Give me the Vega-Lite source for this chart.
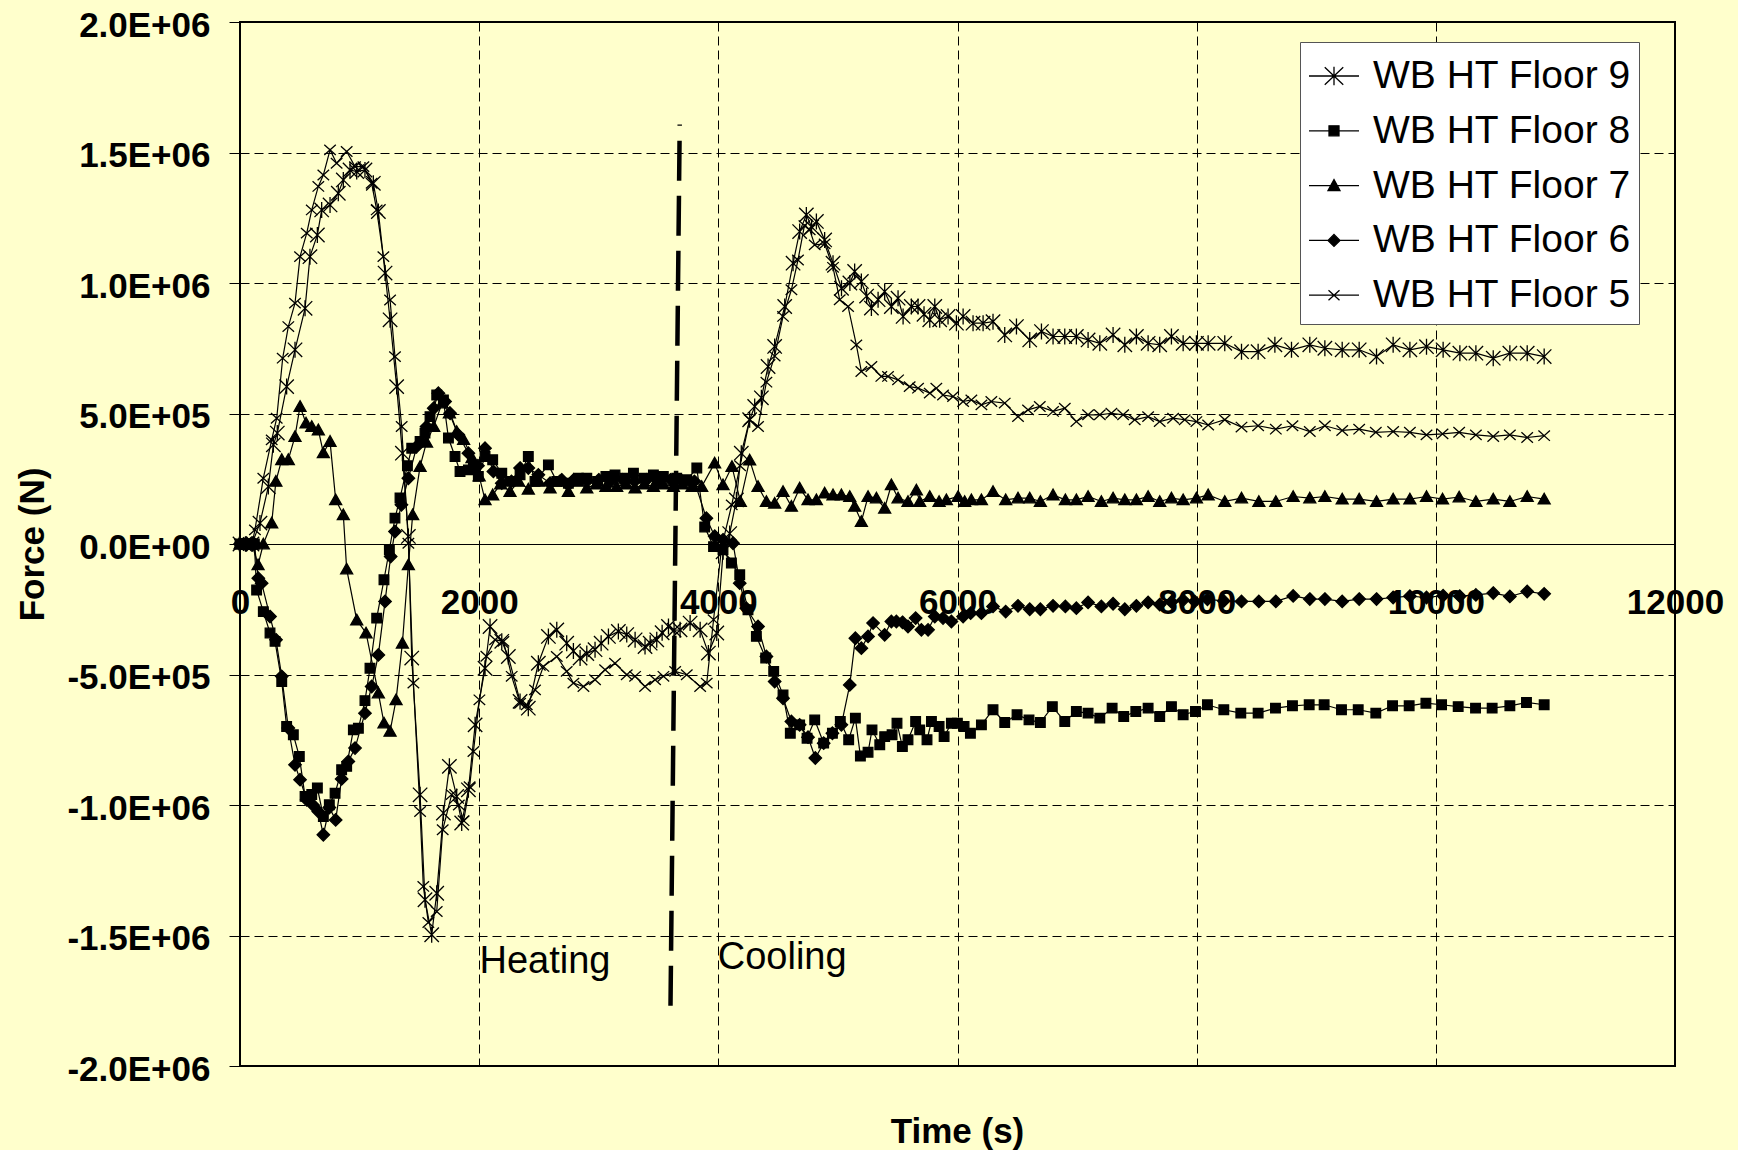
{
  "$schema": "https://vega.github.io/schema/vega-lite/v6.json",
  "width": 1435,
  "height": 1044,
  "autosize": "none",
  "padding": {"left": 240, "top": 22, "right": 63, "bottom": 84},
  "background": "#FFFFCC",
  "config": {
    "view": {"fill": "#FFFFCC", "stroke": "#000000", "strokeWidth": 2},
    "font": "Liberation Sans",
    "axis": {"labelFont": "Liberation Sans", "titleFont": "Liberation Sans", "labelColor": "#000000", "titleColor": "#000000", "tickColor": "#000000", "domainColor": "#000000", "gridColor": "#000000", "gridDash": [9, 5], "gridWidth": 1, "tickWidth": 1, "tickSize": 11, "labelFontSize": 35, "labelFontWeight": "bold", "titleFontSize": 35, "titleFontWeight": "bold"},
    "legend": {"orient": "none", "legendX": 1060, "legendY": 20, "fillColor": "#FFFFFF", "strokeColor": "#555555", "padding": 8, "rowPadding": 8.8, "labelOffset": 13, "symbolSize": 2500, "symbolStrokeWidth": 1.3, "symbolOpacity": 1, "labelFontSize": 39, "labelFont": "Liberation Sans", "labelColor": "#000000", "labelLimit": 400}
  },
  "data": {"values": [
{"s":"WB HT Floor 9","t":0,"f":0},{"s":"WB HT Floor 9","t":50,"f":0},{"s":"WB HT Floor 9","t":100,"f":0},{"s":"WB HT Floor 9","t":167,"f":80000},{"s":"WB HT Floor 9","t":237,"f":220000},{"s":"WB HT Floor 9","t":279,"f":380000},{"s":"WB HT Floor 9","t":312,"f":425000},{"s":"WB HT Floor 9","t":390,"f":603000},{"s":"WB HT Floor 9","t":460,"f":744000},{"s":"WB HT Floor 9","t":544,"f":903000},{"s":"WB HT Floor 9","t":585,"f":1101000},{"s":"WB HT Floor 9","t":647,"f":1184000},{"s":"WB HT Floor 9","t":683,"f":1280000},{"s":"WB HT Floor 9","t":753,"f":1299000},{"s":"WB HT Floor 9","t":822,"f":1344000},{"s":"WB HT Floor 9","t":864,"f":1395000},{"s":"WB HT Floor 9","t":920,"f":1433000},{"s":"WB HT Floor 9","t":976,"f":1427000},{"s":"WB HT Floor 9","t":1045,"f":1433000},{"s":"WB HT Floor 9","t":1115,"f":1382000},{"s":"WB HT Floor 9","t":1157,"f":1274000},{"s":"WB HT Floor 9","t":1213,"f":1038000},{"s":"WB HT Floor 9","t":1255,"f":859000},{"s":"WB HT Floor 9","t":1310,"f":603000},{"s":"WB HT Floor 9","t":1358,"f":348000},{"s":"WB HT Floor 9","t":1408,"f":29000},{"s":"WB HT Floor 9","t":1436,"f":-437000},{"s":"WB HT Floor 9","t":1506,"f":-961000},{"s":"WB HT Floor 9","t":1547,"f":-1363000},{"s":"WB HT Floor 9","t":1603,"f":-1497000},{"s":"WB HT Floor 9","t":1645,"f":-1338000},{"s":"WB HT Floor 9","t":1701,"f":-1031000},{"s":"WB HT Floor 9","t":1751,"f":-852000},{"s":"WB HT Floor 9","t":1812,"f":-967000},{"s":"WB HT Floor 9","t":1854,"f":-1069000},{"s":"WB HT Floor 9","t":1910,"f":-942000},{"s":"WB HT Floor 9","t":1966,"f":-693000},{"s":"WB HT Floor 9","t":2049,"f":-476000},{"s":"WB HT Floor 9","t":2091,"f":-316000},{"s":"WB HT Floor 9","t":2189,"f":-373000},{"s":"WB HT Floor 9","t":2244,"f":-431000},{"s":"WB HT Floor 9","t":2342,"f":-603000},{"s":"WB HT Floor 9","t":2411,"f":-629000},{"s":"WB HT Floor 9","t":2495,"f":-457000},{"s":"WB HT Floor 9","t":2579,"f":-354000},{"s":"WB HT Floor 9","t":2649,"f":-329000},{"s":"WB HT Floor 9","t":2732,"f":-380000},{"s":"WB HT Floor 9","t":2788,"f":-410000},{"s":"WB HT Floor 9","t":2844,"f":-437000},{"s":"WB HT Floor 9","t":2900,"f":-420000},{"s":"WB HT Floor 9","t":2969,"f":-405000},{"s":"WB HT Floor 9","t":3020,"f":-380000},{"s":"WB HT Floor 9","t":3081,"f":-354000},{"s":"WB HT Floor 9","t":3164,"f":-335000},{"s":"WB HT Floor 9","t":3234,"f":-347000},{"s":"WB HT Floor 9","t":3304,"f":-367000},{"s":"WB HT Floor 9","t":3387,"f":-393000},{"s":"WB HT Floor 9","t":3430,"f":-380000},{"s":"WB HT Floor 9","t":3485,"f":-367000},{"s":"WB HT Floor 9","t":3530,"f":-340000},{"s":"WB HT Floor 9","t":3583,"f":-316000},{"s":"WB HT Floor 9","t":3630,"f":-330000},{"s":"WB HT Floor 9","t":3680,"f":-329000},{"s":"WB HT Floor 9","t":3764,"f":-303000},{"s":"WB HT Floor 9","t":3848,"f":-329000},{"s":"WB HT Floor 9","t":3917,"f":-418000},{"s":"WB HT Floor 9","t":3987,"f":-341000},{"s":"WB HT Floor 9","t":4040,"f":-30000},{"s":"WB HT Floor 9","t":4095,"f":40000},{"s":"WB HT Floor 9","t":4151,"f":169000},{"s":"WB HT Floor 9","t":4192,"f":348000},{"s":"WB HT Floor 9","t":4262,"f":476000},{"s":"WB HT Floor 9","t":4304,"f":527000},{"s":"WB HT Floor 9","t":4360,"f":560000},{"s":"WB HT Floor 9","t":4416,"f":680000},{"s":"WB HT Floor 9","t":4471,"f":757000},{"s":"WB HT Floor 9","t":4555,"f":910000},{"s":"WB HT Floor 9","t":4625,"f":1076000},{"s":"WB HT Floor 9","t":4680,"f":1197000},{"s":"WB HT Floor 9","t":4736,"f":1261000},{"s":"WB HT Floor 9","t":4780,"f":1215000},{"s":"WB HT Floor 9","t":4820,"f":1236000},{"s":"WB HT Floor 9","t":4889,"f":1165000},{"s":"WB HT Floor 9","t":4959,"f":1076000},{"s":"WB HT Floor 9","t":5030,"f":980000},{"s":"WB HT Floor 9","t":5100,"f":1000000},{"s":"WB HT Floor 9","t":5140,"f":1044000},{"s":"WB HT Floor 9","t":5196,"f":1006000},{"s":"WB HT Floor 9","t":5240,"f":950000},{"s":"WB HT Floor 9","t":5280,"f":904000},{"s":"WB HT Floor 9","t":5336,"f":936000},{"s":"WB HT Floor 9","t":5391,"f":967000},{"s":"WB HT Floor 9","t":5447,"f":910000},{"s":"WB HT Floor 9","t":5503,"f":942000},{"s":"WB HT Floor 9","t":5545,"f":872000},{"s":"WB HT Floor 9","t":5614,"f":910000},{"s":"WB HT Floor 9","t":5670,"f":910000},{"s":"WB HT Floor 9","t":5720,"f":880000},{"s":"WB HT Floor 9","t":5768,"f":859000},{"s":"WB HT Floor 9","t":5810,"f":910000},{"s":"WB HT Floor 9","t":5851,"f":859000},{"s":"WB HT Floor 9","t":5921,"f":872000},{"s":"WB HT Floor 9","t":5991,"f":846000},{"s":"WB HT Floor 9","t":6047,"f":872000},{"s":"WB HT Floor 9","t":6130,"f":846000},{"s":"WB HT Floor 9","t":6214,"f":846000},{"s":"WB HT Floor 9","t":6297,"f":852000},{"s":"WB HT Floor 9","t":6395,"f":801000},{"s":"WB HT Floor 9","t":6493,"f":833000},{"s":"WB HT Floor 9","t":6604,"f":782000},{"s":"WB HT Floor 9","t":6702,"f":814000},{"s":"WB HT Floor 9","t":6799,"f":795000},{"s":"WB HT Floor 9","t":6897,"f":795000},{"s":"WB HT Floor 9","t":6994,"f":795000},{"s":"WB HT Floor 9","t":7092,"f":782000},{"s":"WB HT Floor 9","t":7190,"f":769000},{"s":"WB HT Floor 9","t":7301,"f":801000},{"s":"WB HT Floor 9","t":7399,"f":763000},{"s":"WB HT Floor 9","t":7496,"f":795000},{"s":"WB HT Floor 9","t":7594,"f":769000},{"s":"WB HT Floor 9","t":7691,"f":763000},{"s":"WB HT Floor 9","t":7789,"f":795000},{"s":"WB HT Floor 9","t":7887,"f":769000},{"s":"WB HT Floor 9","t":7998,"f":769000},{"s":"WB HT Floor 9","t":8096,"f":769000},{"s":"WB HT Floor 9","t":8235,"f":769000},{"s":"WB HT Floor 9","t":8375,"f":737000},{"s":"WB HT Floor 9","t":8514,"f":737000},{"s":"WB HT Floor 9","t":8654,"f":763000},{"s":"WB HT Floor 9","t":8793,"f":744000},{"s":"WB HT Floor 9","t":8946,"f":763000},{"s":"WB HT Floor 9","t":9072,"f":750000},{"s":"WB HT Floor 9","t":9217,"f":744000},{"s":"WB HT Floor 9","t":9359,"f":744000},{"s":"WB HT Floor 9","t":9504,"f":718000},{"s":"WB HT Floor 9","t":9643,"f":763000},{"s":"WB HT Floor 9","t":9783,"f":744000},{"s":"WB HT Floor 9","t":9922,"f":756000},{"s":"WB HT Floor 9","t":10061,"f":744000},{"s":"WB HT Floor 9","t":10201,"f":731000},{"s":"WB HT Floor 9","t":10335,"f":731000},{"s":"WB HT Floor 9","t":10480,"f":712000},{"s":"WB HT Floor 9","t":10619,"f":731000},{"s":"WB HT Floor 9","t":10764,"f":731000},{"s":"WB HT Floor 9","t":10906,"f":718000},
{"s":"WB HT Floor 8","t":0,"f":0},{"s":"WB HT Floor 8","t":30,"f":0},{"s":"WB HT Floor 8","t":60,"f":0},{"s":"WB HT Floor 8","t":90,"f":0},{"s":"WB HT Floor 8","t":120,"f":0},{"s":"WB HT Floor 8","t":139,"f":-176000},{"s":"WB HT Floor 8","t":195,"f":-259000},{"s":"WB HT Floor 8","t":251,"f":-341000},{"s":"WB HT Floor 8","t":293,"f":-373000},{"s":"WB HT Floor 8","t":349,"f":-527000},{"s":"WB HT Floor 8","t":390,"f":-699000},{"s":"WB HT Floor 8","t":446,"f":-731000},{"s":"WB HT Floor 8","t":496,"f":-814000},{"s":"WB HT Floor 8","t":544,"f":-967000},{"s":"WB HT Floor 8","t":600,"f":-960000},{"s":"WB HT Floor 8","t":647,"f":-935000},{"s":"WB HT Floor 8","t":697,"f":-1044000},{"s":"WB HT Floor 8","t":747,"f":-999000},{"s":"WB HT Floor 8","t":795,"f":-955000},{"s":"WB HT Floor 8","t":850,"f":-865000},{"s":"WB HT Floor 8","t":892,"f":-852000},{"s":"WB HT Floor 8","t":948,"f":-712000},{"s":"WB HT Floor 8","t":990,"f":-706000},{"s":"WB HT Floor 8","t":1045,"f":-600000},{"s":"WB HT Floor 8","t":1087,"f":-476000},{"s":"WB HT Floor 8","t":1143,"f":-284000},{"s":"WB HT Floor 8","t":1204,"f":-137000},{"s":"WB HT Floor 8","t":1249,"f":-22000},{"s":"WB HT Floor 8","t":1296,"f":99000},{"s":"WB HT Floor 8","t":1338,"f":176000},{"s":"WB HT Floor 8","t":1400,"f":300000},{"s":"WB HT Floor 8","t":1436,"f":367000},{"s":"WB HT Floor 8","t":1506,"f":393000},{"s":"WB HT Floor 8","t":1547,"f":425000},{"s":"WB HT Floor 8","t":1589,"f":488000},{"s":"WB HT Floor 8","t":1645,"f":571000},{"s":"WB HT Floor 8","t":1701,"f":552000},{"s":"WB HT Floor 8","t":1743,"f":406000},{"s":"WB HT Floor 8","t":1798,"f":335000},{"s":"WB HT Floor 8","t":1840,"f":278000},{"s":"WB HT Floor 8","t":1910,"f":284000},{"s":"WB HT Floor 8","t":1952,"f":291000},{"s":"WB HT Floor 8","t":1993,"f":259000},{"s":"WB HT Floor 8","t":2049,"f":335000},{"s":"WB HT Floor 8","t":2113,"f":323000},{"s":"WB HT Floor 8","t":2189,"f":271000},{"s":"WB HT Floor 8","t":2258,"f":240000},{"s":"WB HT Floor 8","t":2342,"f":265000},{"s":"WB HT Floor 8","t":2411,"f":335000},{"s":"WB HT Floor 8","t":2467,"f":240000},{"s":"WB HT Floor 8","t":2579,"f":303000},{"s":"WB HT Floor 8","t":2649,"f":240000},{"s":"WB HT Floor 8","t":2746,"f":233000},{"s":"WB HT Floor 8","t":2830,"f":252000},{"s":"WB HT Floor 8","t":2900,"f":252000},{"s":"WB HT Floor 8","t":2990,"f":240000},{"s":"WB HT Floor 8","t":3060,"f":259000},{"s":"WB HT Floor 8","t":3136,"f":265000},{"s":"WB HT Floor 8","t":3220,"f":252000},{"s":"WB HT Floor 8","t":3290,"f":271000},{"s":"WB HT Floor 8","t":3380,"f":252000},{"s":"WB HT Floor 8","t":3457,"f":265000},{"s":"WB HT Floor 8","t":3540,"f":259000},{"s":"WB HT Floor 8","t":3652,"f":252000},{"s":"WB HT Floor 8","t":3736,"f":246000},{"s":"WB HT Floor 8","t":3820,"f":291000},{"s":"WB HT Floor 8","t":3886,"f":65000},{"s":"WB HT Floor 8","t":3960,"f":-10000},{"s":"WB HT Floor 8","t":4039,"f":-22000},{"s":"WB HT Floor 8","t":4109,"f":-73000},{"s":"WB HT Floor 8","t":4179,"f":-118000},{"s":"WB HT Floor 8","t":4248,"f":-252000},{"s":"WB HT Floor 8","t":4318,"f":-354000},{"s":"WB HT Floor 8","t":4396,"f":-437000},{"s":"WB HT Floor 8","t":4463,"f":-488000},{"s":"WB HT Floor 8","t":4541,"f":-578000},{"s":"WB HT Floor 8","t":4602,"f":-725000},{"s":"WB HT Floor 8","t":4680,"f":-693000},{"s":"WB HT Floor 8","t":4742,"f":-744000},{"s":"WB HT Floor 8","t":4806,"f":-674000},{"s":"WB HT Floor 8","t":4881,"f":-763000},{"s":"WB HT Floor 8","t":4954,"f":-725000},{"s":"WB HT Floor 8","t":5020,"f":-680000},{"s":"WB HT Floor 8","t":5090,"f":-750000},{"s":"WB HT Floor 8","t":5146,"f":-667000},{"s":"WB HT Floor 8","t":5188,"f":-812000},{"s":"WB HT Floor 8","t":5252,"f":-798000},{"s":"WB HT Floor 8","t":5285,"f":-712000},{"s":"WB HT Floor 8","t":5350,"f":-769000},{"s":"WB HT Floor 8","t":5391,"f":-738000},{"s":"WB HT Floor 8","t":5453,"f":-731000},{"s":"WB HT Floor 8","t":5494,"f":-687000},{"s":"WB HT Floor 8","t":5539,"f":-776000},{"s":"WB HT Floor 8","t":5586,"f":-750000},{"s":"WB HT Floor 8","t":5650,"f":-680000},{"s":"WB HT Floor 8","t":5684,"f":-712000},{"s":"WB HT Floor 8","t":5745,"f":-750000},{"s":"WB HT Floor 8","t":5782,"f":-680000},{"s":"WB HT Floor 8","t":5846,"f":-699000},{"s":"WB HT Floor 8","t":5888,"f":-738000},{"s":"WB HT Floor 8","t":5949,"f":-687000},{"s":"WB HT Floor 8","t":5999,"f":-687000},{"s":"WB HT Floor 8","t":6055,"f":-699000},{"s":"WB HT Floor 8","t":6108,"f":-725000},{"s":"WB HT Floor 8","t":6200,"f":-693000},{"s":"WB HT Floor 8","t":6297,"f":-635000},{"s":"WB HT Floor 8","t":6395,"f":-684000},{"s":"WB HT Floor 8","t":6498,"f":-654000},{"s":"WB HT Floor 8","t":6598,"f":-674000},{"s":"WB HT Floor 8","t":6693,"f":-684000},{"s":"WB HT Floor 8","t":6793,"f":-623000},{"s":"WB HT Floor 8","t":6897,"f":-680000},{"s":"WB HT Floor 8","t":6994,"f":-642000},{"s":"WB HT Floor 8","t":7092,"f":-648000},{"s":"WB HT Floor 8","t":7190,"f":-667000},{"s":"WB HT Floor 8","t":7293,"f":-629000},{"s":"WB HT Floor 8","t":7390,"f":-661000},{"s":"WB HT Floor 8","t":7491,"f":-642000},{"s":"WB HT Floor 8","t":7594,"f":-629000},{"s":"WB HT Floor 8","t":7691,"f":-661000},{"s":"WB HT Floor 8","t":7789,"f":-623000},{"s":"WB HT Floor 8","t":7887,"f":-654000},{"s":"WB HT Floor 8","t":7990,"f":-642000},{"s":"WB HT Floor 8","t":8090,"f":-616000},{"s":"WB HT Floor 8","t":8227,"f":-635000},{"s":"WB HT Floor 8","t":8369,"f":-648000},{"s":"WB HT Floor 8","t":8514,"f":-648000},{"s":"WB HT Floor 8","t":8659,"f":-629000},{"s":"WB HT Floor 8","t":8801,"f":-620000},{"s":"WB HT Floor 8","t":8941,"f":-616000},{"s":"WB HT Floor 8","t":9066,"f":-616000},{"s":"WB HT Floor 8","t":9211,"f":-635000},{"s":"WB HT Floor 8","t":9351,"f":-635000},{"s":"WB HT Floor 8","t":9498,"f":-648000},{"s":"WB HT Floor 8","t":9638,"f":-620000},{"s":"WB HT Floor 8","t":9777,"f":-620000},{"s":"WB HT Floor 8","t":9917,"f":-610000},{"s":"WB HT Floor 8","t":10048,"f":-616000},{"s":"WB HT Floor 8","t":10187,"f":-623000},{"s":"WB HT Floor 8","t":10332,"f":-629000},{"s":"WB HT Floor 8","t":10471,"f":-629000},{"s":"WB HT Floor 8","t":10619,"f":-620000},{"s":"WB HT Floor 8","t":10758,"f":-607000},{"s":"WB HT Floor 8","t":10906,"f":-616000},
{"s":"WB HT Floor 7","t":0,"f":0},{"s":"WB HT Floor 7","t":50,"f":0},{"s":"WB HT Floor 7","t":100,"f":0},{"s":"WB HT Floor 7","t":151,"f":-80000},{"s":"WB HT Floor 7","t":195,"f":0},{"s":"WB HT Floor 7","t":265,"f":80000},{"s":"WB HT Floor 7","t":300,"f":240000},{"s":"WB HT Floor 7","t":349,"f":323000},{"s":"WB HT Floor 7","t":404,"f":323000},{"s":"WB HT Floor 7","t":460,"f":412000},{"s":"WB HT Floor 7","t":502,"f":527000},{"s":"WB HT Floor 7","t":552,"f":463000},{"s":"WB HT Floor 7","t":600,"f":450000},{"s":"WB HT Floor 7","t":655,"f":437000},{"s":"WB HT Floor 7","t":697,"f":349000},{"s":"WB HT Floor 7","t":753,"f":393000},{"s":"WB HT Floor 7","t":800,"f":169000},{"s":"WB HT Floor 7","t":864,"f":112000},{"s":"WB HT Floor 7","t":892,"f":-96000},{"s":"WB HT Floor 7","t":976,"f":-291000},{"s":"WB HT Floor 7","t":1054,"f":-341000},{"s":"WB HT Floor 7","t":1157,"f":-571000},{"s":"WB HT Floor 7","t":1204,"f":-686000},{"s":"WB HT Floor 7","t":1255,"f":-718000},{"s":"WB HT Floor 7","t":1305,"f":-597000},{"s":"WB HT Floor 7","t":1358,"f":-380000},{"s":"WB HT Floor 7","t":1408,"f":-80000},{"s":"WB HT Floor 7","t":1444,"f":112000},{"s":"WB HT Floor 7","t":1506,"f":297000},{"s":"WB HT Floor 7","t":1560,"f":390000},{"s":"WB HT Floor 7","t":1620,"f":450000},{"s":"WB HT Floor 7","t":1690,"f":540000},{"s":"WB HT Floor 7","t":1751,"f":502000},{"s":"WB HT Floor 7","t":1812,"f":431000},{"s":"WB HT Floor 7","t":1870,"f":400000},{"s":"WB HT Floor 7","t":1940,"f":330000},{"s":"WB HT Floor 7","t":2000,"f":260000},{"s":"WB HT Floor 7","t":2049,"f":169000},{"s":"WB HT Floor 7","t":2113,"f":188000},{"s":"WB HT Floor 7","t":2180,"f":230000},{"s":"WB HT Floor 7","t":2258,"f":201000},{"s":"WB HT Floor 7","t":2330,"f":240000},{"s":"WB HT Floor 7","t":2411,"f":210000},{"s":"WB HT Floor 7","t":2500,"f":240000},{"s":"WB HT Floor 7","t":2593,"f":214000},{"s":"WB HT Floor 7","t":2670,"f":240000},{"s":"WB HT Floor 7","t":2746,"f":201000},{"s":"WB HT Floor 7","t":2820,"f":240000},{"s":"WB HT Floor 7","t":2900,"f":214000},{"s":"WB HT Floor 7","t":2980,"f":230000},{"s":"WB HT Floor 7","t":3060,"f":220000},{"s":"WB HT Floor 7","t":3150,"f":220000},{"s":"WB HT Floor 7","t":3230,"f":230000},{"s":"WB HT Floor 7","t":3304,"f":214000},{"s":"WB HT Floor 7","t":3380,"f":230000},{"s":"WB HT Floor 7","t":3457,"f":220000},{"s":"WB HT Floor 7","t":3540,"f":230000},{"s":"WB HT Floor 7","t":3624,"f":220000},{"s":"WB HT Floor 7","t":3700,"f":230000},{"s":"WB HT Floor 7","t":3780,"f":220000},{"s":"WB HT Floor 7","t":3861,"f":220000},{"s":"WB HT Floor 7","t":3969,"f":310000},{"s":"WB HT Floor 7","t":4039,"f":227000},{"s":"WB HT Floor 7","t":4114,"f":297000},{"s":"WB HT Floor 7","t":4184,"f":163000},{"s":"WB HT Floor 7","t":4262,"f":322000},{"s":"WB HT Floor 7","t":4332,"f":220000},{"s":"WB HT Floor 7","t":4402,"f":163000},{"s":"WB HT Floor 7","t":4471,"f":156000},{"s":"WB HT Floor 7","t":4541,"f":201000},{"s":"WB HT Floor 7","t":4611,"f":144000},{"s":"WB HT Floor 7","t":4680,"f":214000},{"s":"WB HT Floor 7","t":4750,"f":169000},{"s":"WB HT Floor 7","t":4820,"f":169000},{"s":"WB HT Floor 7","t":4889,"f":195000},{"s":"WB HT Floor 7","t":4959,"f":188000},{"s":"WB HT Floor 7","t":5029,"f":188000},{"s":"WB HT Floor 7","t":5099,"f":182000},{"s":"WB HT Floor 7","t":5140,"f":144000},{"s":"WB HT Floor 7","t":5196,"f":86000},{"s":"WB HT Floor 7","t":5252,"f":182000},{"s":"WB HT Floor 7","t":5322,"f":176000},{"s":"WB HT Floor 7","t":5391,"f":137000},{"s":"WB HT Floor 7","t":5447,"f":227000},{"s":"WB HT Floor 7","t":5503,"f":176000},{"s":"WB HT Floor 7","t":5586,"f":163000},{"s":"WB HT Floor 7","t":5656,"f":207000},{"s":"WB HT Floor 7","t":5684,"f":163000},{"s":"WB HT Floor 7","t":5768,"f":182000},{"s":"WB HT Floor 7","t":5846,"f":163000},{"s":"WB HT Floor 7","t":5907,"f":169000},{"s":"WB HT Floor 7","t":6005,"f":182000},{"s":"WB HT Floor 7","t":6060,"f":163000},{"s":"WB HT Floor 7","t":6116,"f":169000},{"s":"WB HT Floor 7","t":6200,"f":169000},{"s":"WB HT Floor 7","t":6297,"f":201000},{"s":"WB HT Floor 7","t":6403,"f":169000},{"s":"WB HT Floor 7","t":6506,"f":176000},{"s":"WB HT Floor 7","t":6604,"f":176000},{"s":"WB HT Floor 7","t":6693,"f":163000},{"s":"WB HT Floor 7","t":6799,"f":188000},{"s":"WB HT Floor 7","t":6902,"f":169000},{"s":"WB HT Floor 7","t":6994,"f":169000},{"s":"WB HT Floor 7","t":7092,"f":182000},{"s":"WB HT Floor 7","t":7203,"f":163000},{"s":"WB HT Floor 7","t":7301,"f":176000},{"s":"WB HT Floor 7","t":7399,"f":169000},{"s":"WB HT Floor 7","t":7496,"f":169000},{"s":"WB HT Floor 7","t":7594,"f":182000},{"s":"WB HT Floor 7","t":7691,"f":163000},{"s":"WB HT Floor 7","t":7789,"f":176000},{"s":"WB HT Floor 7","t":7887,"f":169000},{"s":"WB HT Floor 7","t":7998,"f":176000},{"s":"WB HT Floor 7","t":8096,"f":188000},{"s":"WB HT Floor 7","t":8235,"f":163000},{"s":"WB HT Floor 7","t":8375,"f":176000},{"s":"WB HT Floor 7","t":8520,"f":163000},{"s":"WB HT Floor 7","t":8662,"f":163000},{"s":"WB HT Floor 7","t":8807,"f":182000},{"s":"WB HT Floor 7","t":8946,"f":176000},{"s":"WB HT Floor 7","t":9072,"f":182000},{"s":"WB HT Floor 7","t":9217,"f":172000},{"s":"WB HT Floor 7","t":9359,"f":172000},{"s":"WB HT Floor 7","t":9504,"f":163000},{"s":"WB HT Floor 7","t":9643,"f":172000},{"s":"WB HT Floor 7","t":9783,"f":172000},{"s":"WB HT Floor 7","t":9922,"f":182000},{"s":"WB HT Floor 7","t":10056,"f":172000},{"s":"WB HT Floor 7","t":10195,"f":180000},{"s":"WB HT Floor 7","t":10335,"f":163000},{"s":"WB HT Floor 7","t":10480,"f":172000},{"s":"WB HT Floor 7","t":10619,"f":163000},{"s":"WB HT Floor 7","t":10764,"f":182000},{"s":"WB HT Floor 7","t":10906,"f":172000},
{"s":"WB HT Floor 6","t":0,"f":0},{"s":"WB HT Floor 6","t":30,"f":0},{"s":"WB HT Floor 6","t":60,"f":0},{"s":"WB HT Floor 6","t":90,"f":0},{"s":"WB HT Floor 6","t":120,"f":0},{"s":"WB HT Floor 6","t":153,"f":-131000},{"s":"WB HT Floor 6","t":181,"f":-150000},{"s":"WB HT Floor 6","t":251,"f":-278000},{"s":"WB HT Floor 6","t":301,"f":-367000},{"s":"WB HT Floor 6","t":349,"f":-507000},{"s":"WB HT Floor 6","t":404,"f":-705000},{"s":"WB HT Floor 6","t":460,"f":-846000},{"s":"WB HT Floor 6","t":502,"f":-903000},{"s":"WB HT Floor 6","t":558,"f":-980000},{"s":"WB HT Floor 6","t":610,"f":-1000000},{"s":"WB HT Floor 6","t":655,"f":-1025000},{"s":"WB HT Floor 6","t":697,"f":-1114000},{"s":"WB HT Floor 6","t":747,"f":-1010000},{"s":"WB HT Floor 6","t":800,"f":-1057000},{"s":"WB HT Floor 6","t":850,"f":-900000},{"s":"WB HT Floor 6","t":906,"f":-833000},{"s":"WB HT Floor 6","t":962,"f":-782000},{"s":"WB HT Floor 6","t":1045,"f":-648000},{"s":"WB HT Floor 6","t":1101,"f":-546000},{"s":"WB HT Floor 6","t":1157,"f":-425000},{"s":"WB HT Floor 6","t":1213,"f":-220000},{"s":"WB HT Floor 6","t":1260,"f":-48000},{"s":"WB HT Floor 6","t":1296,"f":48000},{"s":"WB HT Floor 6","t":1350,"f":150000},{"s":"WB HT Floor 6","t":1408,"f":252000},{"s":"WB HT Floor 6","t":1478,"f":374000},{"s":"WB HT Floor 6","t":1560,"f":450000},{"s":"WB HT Floor 6","t":1620,"f":520000},{"s":"WB HT Floor 6","t":1659,"f":578000},{"s":"WB HT Floor 6","t":1715,"f":546000},{"s":"WB HT Floor 6","t":1757,"f":501000},{"s":"WB HT Floor 6","t":1826,"f":418000},{"s":"WB HT Floor 6","t":1910,"f":348000},{"s":"WB HT Floor 6","t":1990,"f":300000},{"s":"WB HT Floor 6","t":2049,"f":367000},{"s":"WB HT Floor 6","t":2119,"f":278000},{"s":"WB HT Floor 6","t":2189,"f":233000},{"s":"WB HT Floor 6","t":2270,"f":240000},{"s":"WB HT Floor 6","t":2342,"f":291000},{"s":"WB HT Floor 6","t":2411,"f":291000},{"s":"WB HT Floor 6","t":2495,"f":265000},{"s":"WB HT Floor 6","t":2593,"f":233000},{"s":"WB HT Floor 6","t":2690,"f":246000},{"s":"WB HT Floor 6","t":2790,"f":246000},{"s":"WB HT Floor 6","t":2900,"f":240000},{"s":"WB HT Floor 6","t":3000,"f":246000},{"s":"WB HT Floor 6","t":3100,"f":240000},{"s":"WB HT Floor 6","t":3200,"f":246000},{"s":"WB HT Floor 6","t":3300,"f":240000},{"s":"WB HT Floor 6","t":3400,"f":246000},{"s":"WB HT Floor 6","t":3500,"f":240000},{"s":"WB HT Floor 6","t":3600,"f":246000},{"s":"WB HT Floor 6","t":3700,"f":240000},{"s":"WB HT Floor 6","t":3800,"f":240000},{"s":"WB HT Floor 6","t":3900,"f":99000},{"s":"WB HT Floor 6","t":3970,"f":30000},{"s":"WB HT Floor 6","t":4039,"f":16000},{"s":"WB HT Floor 6","t":4123,"f":3000},{"s":"WB HT Floor 6","t":4179,"f":-150000},{"s":"WB HT Floor 6","t":4234,"f":-246000},{"s":"WB HT Floor 6","t":4332,"f":-316000},{"s":"WB HT Floor 6","t":4402,"f":-431000},{"s":"WB HT Floor 6","t":4471,"f":-527000},{"s":"WB HT Floor 6","t":4541,"f":-591000},{"s":"WB HT Floor 6","t":4611,"f":-680000},{"s":"WB HT Floor 6","t":4680,"f":-693000},{"s":"WB HT Floor 6","t":4750,"f":-740000},{"s":"WB HT Floor 6","t":4811,"f":-820000},{"s":"WB HT Floor 6","t":4881,"f":-763000},{"s":"WB HT Floor 6","t":4954,"f":-725000},{"s":"WB HT Floor 6","t":5029,"f":-693000},{"s":"WB HT Floor 6","t":5099,"f":-540000},{"s":"WB HT Floor 6","t":5146,"f":-361000},{"s":"WB HT Floor 6","t":5196,"f":-399000},{"s":"WB HT Floor 6","t":5252,"f":-354000},{"s":"WB HT Floor 6","t":5294,"f":-303000},{"s":"WB HT Floor 6","t":5391,"f":-348000},{"s":"WB HT Floor 6","t":5447,"f":-297000},{"s":"WB HT Floor 6","t":5489,"f":-297000},{"s":"WB HT Floor 6","t":5540,"f":-300000},{"s":"WB HT Floor 6","t":5586,"f":-316000},{"s":"WB HT Floor 6","t":5650,"f":-284000},{"s":"WB HT Floor 6","t":5698,"f":-329000},{"s":"WB HT Floor 6","t":5754,"f":-329000},{"s":"WB HT Floor 6","t":5810,"f":-278000},{"s":"WB HT Floor 6","t":5879,"f":-284000},{"s":"WB HT Floor 6","t":5949,"f":-297000},{"s":"WB HT Floor 6","t":6047,"f":-278000},{"s":"WB HT Floor 6","t":6110,"f":-265000},{"s":"WB HT Floor 6","t":6200,"f":-265000},{"s":"WB HT Floor 6","t":6297,"f":-239000},{"s":"WB HT Floor 6","t":6403,"f":-259000},{"s":"WB HT Floor 6","t":6506,"f":-237000},{"s":"WB HT Floor 6","t":6604,"f":-250000},{"s":"WB HT Floor 6","t":6693,"f":-250000},{"s":"WB HT Floor 6","t":6799,"f":-237000},{"s":"WB HT Floor 6","t":6902,"f":-239000},{"s":"WB HT Floor 6","t":6994,"f":-246000},{"s":"WB HT Floor 6","t":7092,"f":-224000},{"s":"WB HT Floor 6","t":7203,"f":-239000},{"s":"WB HT Floor 6","t":7301,"f":-229000},{"s":"WB HT Floor 6","t":7399,"f":-250000},{"s":"WB HT Floor 6","t":7496,"f":-237000},{"s":"WB HT Floor 6","t":7594,"f":-224000},{"s":"WB HT Floor 6","t":7691,"f":-232000},{"s":"WB HT Floor 6","t":7789,"f":-222000},{"s":"WB HT Floor 6","t":7887,"f":-215000},{"s":"WB HT Floor 6","t":7984,"f":-220000},{"s":"WB HT Floor 6","t":8090,"f":-212000},{"s":"WB HT Floor 6","t":8227,"f":-218000},{"s":"WB HT Floor 6","t":8375,"f":-220000},{"s":"WB HT Floor 6","t":8520,"f":-220000},{"s":"WB HT Floor 6","t":8662,"f":-220000},{"s":"WB HT Floor 6","t":8807,"f":-199000},{"s":"WB HT Floor 6","t":8946,"f":-211000},{"s":"WB HT Floor 6","t":9072,"f":-211000},{"s":"WB HT Floor 6","t":9217,"f":-220000},{"s":"WB HT Floor 6","t":9359,"f":-211000},{"s":"WB HT Floor 6","t":9504,"f":-211000},{"s":"WB HT Floor 6","t":9643,"f":-205000},{"s":"WB HT Floor 6","t":9783,"f":-200000},{"s":"WB HT Floor 6","t":9922,"f":-205000},{"s":"WB HT Floor 6","t":10061,"f":-198000},{"s":"WB HT Floor 6","t":10200,"f":-200000},{"s":"WB HT Floor 6","t":10335,"f":-195000},{"s":"WB HT Floor 6","t":10480,"f":-188000},{"s":"WB HT Floor 6","t":10619,"f":-201000},{"s":"WB HT Floor 6","t":10764,"f":-182000},{"s":"WB HT Floor 6","t":10906,"f":-191000},
{"s":"WB HT Floor 5","t":0,"f":0},{"s":"WB HT Floor 5","t":50,"f":0},{"s":"WB HT Floor 5","t":100,"f":0},{"s":"WB HT Floor 5","t":125,"f":54000},{"s":"WB HT Floor 5","t":195,"f":252000},{"s":"WB HT Floor 5","t":265,"f":399000},{"s":"WB HT Floor 5","t":307,"f":482000},{"s":"WB HT Floor 5","t":357,"f":712000},{"s":"WB HT Floor 5","t":404,"f":833000},{"s":"WB HT Floor 5","t":460,"f":923000},{"s":"WB HT Floor 5","t":502,"f":1101000},{"s":"WB HT Floor 5","t":558,"f":1191000},{"s":"WB HT Floor 5","t":600,"f":1280000},{"s":"WB HT Floor 5","t":655,"f":1370000},{"s":"WB HT Floor 5","t":697,"f":1414000},{"s":"WB HT Floor 5","t":753,"f":1510000},{"s":"WB HT Floor 5","t":808,"f":1459000},{"s":"WB HT Floor 5","t":892,"f":1504000},{"s":"WB HT Floor 5","t":962,"f":1446000},{"s":"WB HT Floor 5","t":1032,"f":1446000},{"s":"WB HT Floor 5","t":1101,"f":1382000},{"s":"WB HT Floor 5","t":1143,"f":1280000},{"s":"WB HT Floor 5","t":1199,"f":1101000},{"s":"WB HT Floor 5","t":1255,"f":935000},{"s":"WB HT Floor 5","t":1296,"f":718000},{"s":"WB HT Floor 5","t":1352,"f":450000},{"s":"WB HT Floor 5","t":1408,"f":3000},{"s":"WB HT Floor 5","t":1450,"f":-533000},{"s":"WB HT Floor 5","t":1506,"f":-1025000},{"s":"WB HT Floor 5","t":1533,"f":-1312000},{"s":"WB HT Floor 5","t":1575,"f":-1450000},{"s":"WB HT Floor 5","t":1645,"f":-1408000},{"s":"WB HT Floor 5","t":1695,"f":-1095000},{"s":"WB HT Floor 5","t":1770,"f":-960000},{"s":"WB HT Floor 5","t":1830,"f":-1000000},{"s":"WB HT Floor 5","t":1870,"f":-1060000},{"s":"WB HT Floor 5","t":1920,"f":-930000},{"s":"WB HT Floor 5","t":1952,"f":-795000},{"s":"WB HT Floor 5","t":2002,"f":-597000},{"s":"WB HT Floor 5","t":2060,"f":-430000},{"s":"WB HT Floor 5","t":2133,"f":-367000},{"s":"WB HT Floor 5","t":2203,"f":-373000},{"s":"WB HT Floor 5","t":2272,"f":-507000},{"s":"WB HT Floor 5","t":2342,"f":-610000},{"s":"WB HT Floor 5","t":2398,"f":-616000},{"s":"WB HT Floor 5","t":2467,"f":-559000},{"s":"WB HT Floor 5","t":2537,"f":-469000},{"s":"WB HT Floor 5","t":2649,"f":-431000},{"s":"WB HT Floor 5","t":2732,"f":-488000},{"s":"WB HT Floor 5","t":2788,"f":-533000},{"s":"WB HT Floor 5","t":2872,"f":-546000},{"s":"WB HT Floor 5","t":2969,"f":-520000},{"s":"WB HT Floor 5","t":3053,"f":-482000},{"s":"WB HT Floor 5","t":3136,"f":-457000},{"s":"WB HT Floor 5","t":3234,"f":-501000},{"s":"WB HT Floor 5","t":3304,"f":-507000},{"s":"WB HT Floor 5","t":3387,"f":-546000},{"s":"WB HT Floor 5","t":3471,"f":-520000},{"s":"WB HT Floor 5","t":3541,"f":-507000},{"s":"WB HT Floor 5","t":3639,"f":-488000},{"s":"WB HT Floor 5","t":3736,"f":-501000},{"s":"WB HT Floor 5","t":3848,"f":-546000},{"s":"WB HT Floor 5","t":3903,"f":-533000},{"s":"WB HT Floor 5","t":3960,"f":-290000},{"s":"WB HT Floor 5","t":4028,"f":-10000},{"s":"WB HT Floor 5","t":4112,"f":150000},{"s":"WB HT Floor 5","t":4182,"f":300000},{"s":"WB HT Floor 5","t":4262,"f":476000},{"s":"WB HT Floor 5","t":4332,"f":450000},{"s":"WB HT Floor 5","t":4402,"f":620000},{"s":"WB HT Floor 5","t":4471,"f":720000},{"s":"WB HT Floor 5","t":4541,"f":872000},{"s":"WB HT Floor 5","t":4611,"f":974000},{"s":"WB HT Floor 5","t":4666,"f":1088000},{"s":"WB HT Floor 5","t":4720,"f":1220000},{"s":"WB HT Floor 5","t":4764,"f":1204000},{"s":"WB HT Floor 5","t":4806,"f":1146000},{"s":"WB HT Floor 5","t":4889,"f":1150000},{"s":"WB HT Floor 5","t":4959,"f":1060000},{"s":"WB HT Floor 5","t":5015,"f":936000},{"s":"WB HT Floor 5","t":5085,"f":910000},{"s":"WB HT Floor 5","t":5154,"f":763000},{"s":"WB HT Floor 5","t":5196,"f":661000},{"s":"WB HT Floor 5","t":5280,"f":680000},{"s":"WB HT Floor 5","t":5363,"f":642000},{"s":"WB HT Floor 5","t":5419,"f":642000},{"s":"WB HT Floor 5","t":5503,"f":629000},{"s":"WB HT Floor 5","t":5600,"f":603000},{"s":"WB HT Floor 5","t":5670,"f":597000},{"s":"WB HT Floor 5","t":5768,"f":578000},{"s":"WB HT Floor 5","t":5823,"f":597000},{"s":"WB HT Floor 5","t":5879,"f":571000},{"s":"WB HT Floor 5","t":5963,"f":565000},{"s":"WB HT Floor 5","t":6047,"f":546000},{"s":"WB HT Floor 5","t":6116,"f":552000},{"s":"WB HT Floor 5","t":6200,"f":533000},{"s":"WB HT Floor 5","t":6283,"f":546000},{"s":"WB HT Floor 5","t":6395,"f":540000},{"s":"WB HT Floor 5","t":6506,"f":488000},{"s":"WB HT Floor 5","t":6590,"f":514000},{"s":"WB HT Floor 5","t":6688,"f":527000},{"s":"WB HT Floor 5","t":6799,"f":508000},{"s":"WB HT Floor 5","t":6897,"f":520000},{"s":"WB HT Floor 5","t":6994,"f":469000},{"s":"WB HT Floor 5","t":7092,"f":495000},{"s":"WB HT Floor 5","t":7190,"f":495000},{"s":"WB HT Floor 5","t":7287,"f":501000},{"s":"WB HT Floor 5","t":7385,"f":495000},{"s":"WB HT Floor 5","t":7482,"f":476000},{"s":"WB HT Floor 5","t":7594,"f":488000},{"s":"WB HT Floor 5","t":7691,"f":469000},{"s":"WB HT Floor 5","t":7803,"f":482000},{"s":"WB HT Floor 5","t":7900,"f":476000},{"s":"WB HT Floor 5","t":7998,"f":469000},{"s":"WB HT Floor 5","t":8096,"f":456000},{"s":"WB HT Floor 5","t":8235,"f":476000},{"s":"WB HT Floor 5","t":8375,"f":448000},{"s":"WB HT Floor 5","t":8514,"f":453000},{"s":"WB HT Floor 5","t":8662,"f":440000},{"s":"WB HT Floor 5","t":8801,"f":453000},{"s":"WB HT Floor 5","t":8946,"f":431000},{"s":"WB HT Floor 5","t":9072,"f":453000},{"s":"WB HT Floor 5","t":9217,"f":435000},{"s":"WB HT Floor 5","t":9359,"f":440000},{"s":"WB HT Floor 5","t":9498,"f":428000},{"s":"WB HT Floor 5","t":9643,"f":431000},{"s":"WB HT Floor 5","t":9783,"f":428000},{"s":"WB HT Floor 5","t":9922,"f":418000},{"s":"WB HT Floor 5","t":10056,"f":422000},{"s":"WB HT Floor 5","t":10195,"f":428000},{"s":"WB HT Floor 5","t":10335,"f":418000},{"s":"WB HT Floor 5","t":10480,"f":412000},{"s":"WB HT Floor 5","t":10619,"f":418000},{"s":"WB HT Floor 5","t":10764,"f":408000},{"s":"WB HT Floor 5","t":10906,"f":415000}
  ]},
  "encoding": {
    "x": {"field": "t", "type": "quantitative", "scale": {"domain": [0, 12000], "nice": false, "zero": false},
      "axis": {"values": [0, 2000, 4000, 6000, 8000, 10000, 12000], "format": "d", "offset": -522, "grid": true, "domain": true, "domainWidth": 1.2, "ticks": true, "tickSize": 11, "labelPadding": 30, "labelFlush": false, "labelOverlap": false, "labelBound": false, "title": "Time (s)", "titleX": 717, "titleY": 598, "titleAlign": "center", "titleBaseline": "alphabetic", "titleAnchor": null}},
    "y": {"field": "f", "type": "quantitative", "scale": {"domain": [-2000000, 2000000], "nice": false, "zero": false},
      "axis": {"values": [-2000000, -1500000, -1000000, -500000, 0, 500000, 1000000, 1500000, 2000000], "grid": true, "domain": false, "ticks": true, "tickSize": 11, "labelPadding": 19, "labelOffset": 3, "labelOverlap": false, "labelBound": false, "labelFlush": false,
        "labelExpr": "replace(replace(format(datum.value, '.1e'), 'e+', 'E+0'), '\u2212', '-')",
        "title": "Force (N)", "titleX": -197, "titleY": 522, "titleAngle": 270, "titleAlign": "center", "titleBaseline": "alphabetic", "titleAnchor": null}}
  },
  "layer": [
    {"mark": {"type": "line", "stroke": "#000000", "strokeWidth": 1.2},
     "encoding": {"detail": {"field": "s"}}},
    {"transform": [{"filter": "datum.s == 'WB HT Floor 9'"}],
     "mark": {"type": "point", "shape": "M0,-1V1M-0.9,-0.9L0.9,0.9M-0.9,0.9L0.9,-0.9", "filled": true, "fill": "#000000", "stroke": "#000000", "strokeWidth": 1.3, "opacity": 1, "size": 256}},
    {"transform": [{"filter": "datum.s == 'WB HT Floor 8'"}],
     "mark": {"type": "point", "shape": "M-0.6,-0.6H0.6V0.6H-0.6Z", "filled": true, "fill": "#000000", "stroke": "#000000", "strokeWidth": 1.3, "opacity": 1, "size": 256}},
    {"transform": [{"filter": "datum.s == 'WB HT Floor 7'"}],
     "mark": {"type": "point", "shape": "M0,-0.72L0.75,0.6H-0.75Z", "filled": true, "fill": "#000000", "stroke": "#000000", "strokeWidth": 1.3, "opacity": 1, "size": 256}},
    {"transform": [{"filter": "datum.s == 'WB HT Floor 6'"}],
     "mark": {"type": "point", "shape": "M0,-0.78L0.78,0L0,0.78L-0.78,0Z", "filled": true, "fill": "#000000", "stroke": "#000000", "strokeWidth": 1.3, "opacity": 1, "size": 256}},
    {"transform": [{"filter": "datum.s == 'WB HT Floor 5'"}],
     "mark": {"type": "point", "shape": "M-0.72,-0.65L0.72,0.65M-0.72,0.65L0.72,-0.65", "filled": true, "fill": "#000000", "stroke": "#000000", "strokeWidth": 1.3, "opacity": 1, "size": 256}},
    {"mark": {"type": "point", "filled": true, "size": 0, "opacity": 1, "strokeWidth": 1.3},
     "encoding": {
       "shape": {"field": "s", "type": "nominal", "title": null,
        "scale": {"domain": ["WB HT Floor 9", "WB HT Floor 8", "WB HT Floor 7", "WB HT Floor 6", "WB HT Floor 5"],
                  "range": ["M-1,0H1M0,-0.37V0.37M-0.37,-0.35L0.37,0.35M-0.37,0.35L0.37,-0.35", "M-1,0H1M-0.2,-0.2H0.2V0.2H-0.2Z", "M-1,0H1M0,-0.24L0.24,0.2H-0.24Z", "M-1,0H1M0,-0.24L0.24,0L0,0.24L-0.24,0Z", "M-1,0H1M-0.22,-0.2L0.22,0.2M-0.22,0.2L0.22,-0.2"]}},
       "fill": {"field": "s", "type": "nominal", "title": null, "scale": {"domain": ["WB HT Floor 9", "WB HT Floor 8", "WB HT Floor 7", "WB HT Floor 6", "WB HT Floor 5"], "range": ["#000000", "#000000", "#000000", "#000000", "#000000"]}},
       "stroke": {"field": "s", "type": "nominal", "title": null, "scale": {"domain": ["WB HT Floor 9", "WB HT Floor 8", "WB HT Floor 7", "WB HT Floor 6", "WB HT Floor 5"], "range": ["#000000", "#000000", "#000000", "#000000", "#000000"]}}
     }},
    {"data": {"values": [{"t": 3600, "f": -1769000}, {"t": 3677, "f": 1607000}]},
     "mark": {"type": "line", "stroke": "#000000", "strokeWidth": 4.5, "strokeDash": [40, 15]},
     "encoding": {}},
    {"data": {"values": [{"t": 2003, "f": -1643000, "label": "Heating"}, {"t": 3995, "f": -1627000, "label": "Cooling"}]},
     "mark": {"type": "text", "align": "left", "baseline": "alphabetic", "fontSize": 38, "font": "Liberation Sans", "color": "#000000"},
     "encoding": {"text": {"field": "label"}}}
  ]
}
